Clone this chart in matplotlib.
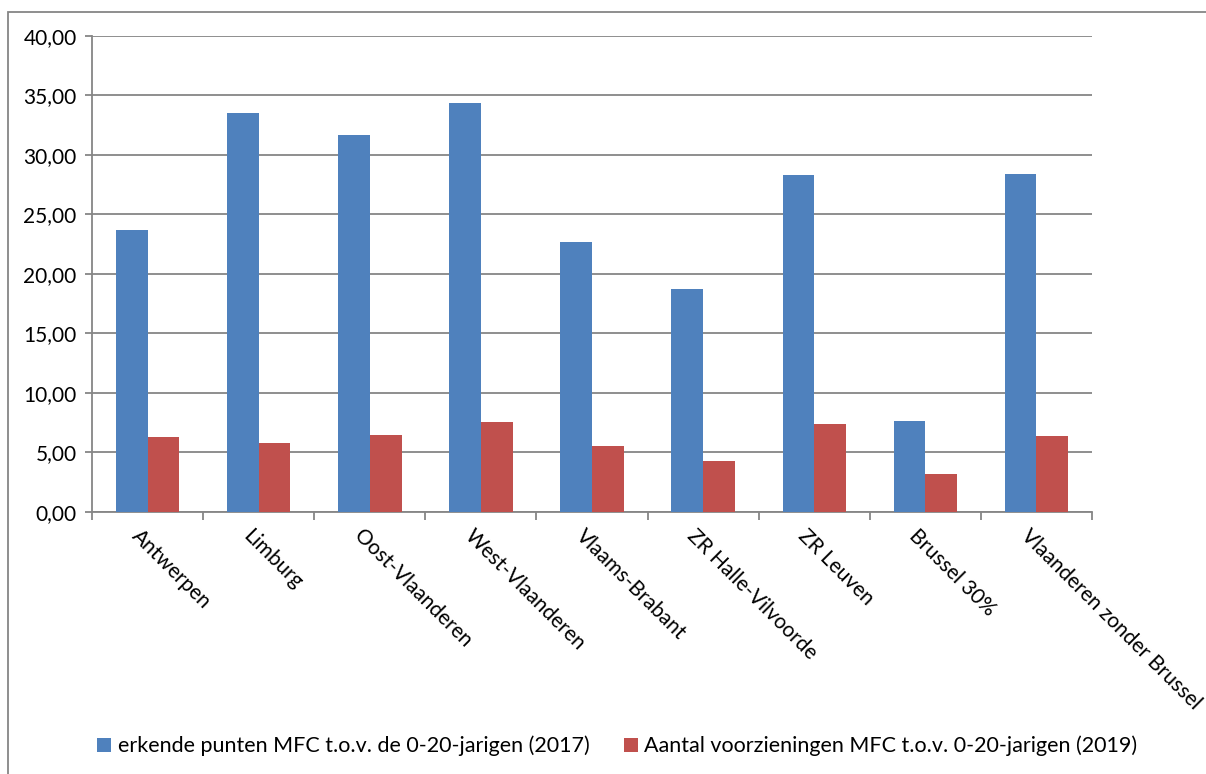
import numpy as np
import matplotlib
matplotlib.use("Agg")
import matplotlib.pyplot as plt
from matplotlib.ticker import FuncFormatter, MultipleLocator
from matplotlib.patches import Rectangle

# data
regions = ["Antwerpen", "Limburg", "Oost-Vlaanderen", "West-Vlaanderen",
           "Vlaams-Brabant", "ZR Halle-Vilvoorde", "ZR Leuven", "Brussel 30%",
           "Vlaanderen zonder Brussel"]
erkende_2017 = [23.7, 33.5, 31.7, 34.4, 22.7, 18.7, 28.3, 7.65, 28.4]
voorzieningen_2019 = [6.3, 5.8, 6.47, 7.56, 5.55, 4.3, 7.4, 3.2, 6.4]
label_2017 = "erkende punten MFC t.o.v. de 0-20-jarigen (2017)"
label_2019 = "Aantal voorzieningen MFC t.o.v. 0-20-jarigen (2019)"

plt.rcParams["font.family"] = ["Lato", "DejaVu Sans"]
grey = "#868686"

fig = plt.figure(figsize=(12.06, 7.74), dpi=100)
ax = fig.add_axes([0.0763, 0.3389, 0.8292, 0.6146])

x = np.arange(len(regions))
w = 1 / 3.5
ax.bar(x - w / 2, erkende_2017, w, color="#4F81BD", label=label_2017, zorder=3)
ax.bar(x + w / 2, voorzieningen_2019, w, color="#C0504D", label=label_2019, zorder=3)

ax.set_xlim(-0.5, len(regions) - 0.5)
ax.set_ylim(0, 40)
ax.yaxis.set_major_locator(MultipleLocator(5))
ax.yaxis.set_major_formatter(FuncFormatter(lambda v, p: f"{v:.2f}".replace(".", ",")))
ax.grid(axis="y", color=grey, lw=1.3, zorder=0)

for s in ["top", "right"]:
    ax.spines[s].set_visible(False)
for s in ["left", "bottom"]:
    ax.spines[s].set_color(grey)
    ax.spines[s].set_linewidth(1.3)

# category boundary ticks on x axis
ax.set_xticks(np.arange(-0.5, len(regions)), minor=True)
ax.set_xticks(x)
ax.set_xticklabels([])
ax.tick_params(axis="x", which="major", length=0)
ax.tick_params(axis="x", which="minor", length=6, width=1.3, color=grey, direction="out")
ax.tick_params(axis="y", length=5, width=1.3, color=grey, labelsize=15, pad=6)

for xi, name in zip(x, regions):
    ax.text(xi - 0.05, -1.2, name, rotation=-45, rotation_mode="anchor",
            ha="left", va="top", fontsize=15, transform=ax.transData)

# outer chart border
fig.patches.append(Rectangle((8 / 1206, -0.01), 1.1, 1 - 12 / 774 + 0.01,
                             transform=fig.transFigure, fill=False,
                             edgecolor=grey, lw=1.3))

fig.legend(loc="center", bbox_to_anchor=(0.512, 0.036), ncol=2, frameon=False,
           fontsize=15.5, handlelength=0.65, handleheight=0.65, handletextpad=0.3,
           columnspacing=1.6)

fig.savefig("out.png", dpi=100)
